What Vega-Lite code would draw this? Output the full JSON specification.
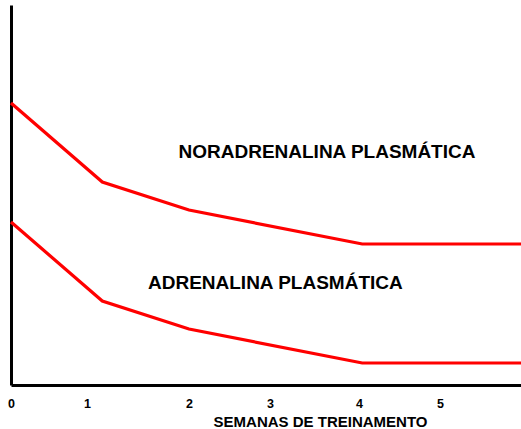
{
  "$schema": "https://vega.github.io/schema/vega-lite/v6.json",
  "width": 510,
  "height": 380,
  "autosize": {"type": "none"},
  "padding": {"left": 11, "top": 5, "right": 0, "bottom": 44},
  "background": "white",
  "config": {"view": {"stroke": null}, "font": "Liberation Sans"},
  "datasets": {
    "lines": [
      {"semana": 0, "valor": 282, "serie": "Noradrenalina"},
      {"semana": 1.15, "valor": 203, "serie": "Noradrenalina"},
      {"semana": 2.0, "valor": 175, "serie": "Noradrenalina"},
      {"semana": 4.04, "valor": 141, "serie": "Noradrenalina"},
      {"semana": 6, "valor": 141, "serie": "Noradrenalina"},
      {"semana": 0, "valor": 163, "serie": "Adrenalina"},
      {"semana": 1.15, "valor": 84, "serie": "Adrenalina"},
      {"semana": 2.0, "valor": 56, "serie": "Adrenalina"},
      {"semana": 4.04, "valor": 22, "serie": "Adrenalina"},
      {"semana": 6, "valor": 22, "serie": "Adrenalina"}
    ],
    "labels": [
      {"semana": 3.64, "valor": 233, "texto": "NORADRENALINA PLASMÁTICA"},
      {"semana": 3.06, "valor": 102, "texto": "ADRENALINA PLASMÁTICA"}
    ]
  },
  "layer": [
    {
      "data": {"name": "lines"},
      "mark": {"type": "line", "color": "#ff0000", "strokeWidth": 3.2},
      "encoding": {
        "x": {
          "field": "semana",
          "type": "quantitative",
          "scale": {"domain": [0, 1, 2, 3, 4, 5, 6], "range": [0, 76, 178, 259, 348, 429, 510], "zero": false, "nice": false},
          "axis": {
            "values": [0, 1, 2, 3, 4, 5],
            "format": "d",
            "grid": false,
            "ticks": false,
            "tickSize": 0,
            "domainColor": "black",
            "domainWidth": 3,
            "labelFont": "Liberation Sans",
            "labelFontWeight": "bold",
            "labelFontSize": 12.5,
            "labelColor": "black",
            "labelPadding": 12,
            "labelFlush": false,
            "labelOverlap": false,
            "title": "SEMANAS DE TREINAMENTO",
            "titleFont": "Liberation Sans",
            "titleFontWeight": "bold",
            "titleFontSize": 15,
            "titleColor": "black",
            "titleX": 309,
            "titleY": 29,
            "titleAlign": "center",
            "titleBaseline": "top"
          }
        },
        "y": {
          "field": "valor",
          "type": "quantitative",
          "scale": {"domain": [0, 380], "nice": false, "zero": true},
          "axis": {
            "grid": false,
            "ticks": false,
            "labels": false,
            "title": null,
            "domainColor": "black",
            "domainWidth": 3
          }
        },
        "detail": {"field": "serie"}
      }
    },
    {
      "data": {"name": "labels"},
      "mark": {"type": "text", "font": "Liberation Sans", "fontWeight": "bold", "fontSize": 19, "color": "black", "align": "center", "baseline": "middle"},
      "encoding": {
        "x": {"field": "semana", "type": "quantitative"},
        "y": {"field": "valor", "type": "quantitative"},
        "text": {"field": "texto"}
      }
    }
  ]
}
